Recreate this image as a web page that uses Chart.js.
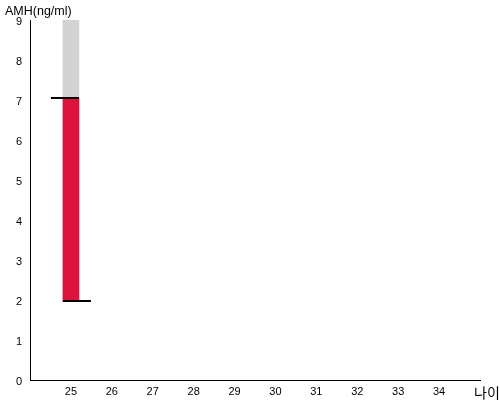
<!DOCTYPE html>
<html>
<head>
<meta charset="utf-8">
<script src="https://cdn.jsdelivr.net/npm/chart.js@4/dist/chart.umd.min.js"></script>
<style>
html,body{margin:0;padding:0;background:#fff;}
#wrap{position:relative;width:500px;height:400px;}
</style>
</head>
<body>
<div id="wrap"><canvas id="c" width="500" height="400"></canvas></div>
<script>
// Data
const ages = [25];
const lowValues = [1.97];
const highValues = [7.05];
const yMax = 9;
const xTicks = [25, 26, 27, 28, 29, 30, 31, 32, 33, 34];
const yTitle = 'AMH(ng/ml)';
const xTitle = '나이';

const FONT = 'Arial, "Liberation Sans", sans-serif';

const redData = ages.map((a, i) => ({x: a, y: [lowValues[i], highValues[i]]}));
const greyData = ages.map((a, i) => ({x: a, y: [highValues[i], yMax]}));

const markerPlugin = {
  id: 'markers',
  afterDatasetsDraw(chart) {
    const ctx = chart.ctx;
    const xs = chart.scales.x, ys = chart.scales.y;
    ctx.save();
    ctx.strokeStyle = '#000';
    ctx.lineWidth = 2;
    ages.forEach((a, i) => {
      const px = xs.getPixelForValue(a);
      const hy = Math.round(ys.getPixelForValue(highValues[i]));
      const ly = Math.round(ys.getPixelForValue(lowValues[i]));
      ctx.beginPath();
      ctx.moveTo(px - 20, hy); ctx.lineTo(px + 8, hy);
      ctx.moveTo(px - 8, ly); ctx.lineTo(px + 20, ly);
      ctx.stroke();
    });
    ctx.restore();
  }
};

const titlesPlugin = {
  id: 'titles',
  afterDraw(chart) {
    const ctx = chart.ctx;
    ctx.save();
    ctx.fillStyle = '#000';
    ctx.font = '12.5px ' + FONT;
    ctx.textBaseline = 'alphabetic';
    ctx.textAlign = 'left';
    ctx.fillText(yTitle, 5, 15);
    ctx.font = '14px "Noto Sans CJK KR", sans-serif';
    ctx.fillText(xTitle, 474, 398);
    ctx.restore();
  }
};

new Chart(document.getElementById('c'), {
  type: 'bar',
  data: {
    datasets: [
      {data: redData, backgroundColor: '#dc143c', barThickness: 16, grouped: false, order: 1},
      {data: greyData, backgroundColor: '#d3d3d3', barThickness: 16, grouped: false, order: 2}
    ]
  },
  options: {
    responsive: false,
    animation: false,
    layout: {padding: {top: 20, right: 20, left: 0, bottom: 0}},
    plugins: {legend: {display: false}, tooltip: {enabled: false}},
    scales: {
      x: {
        type: 'linear', min: 24, max: 35, offset: false,
        grid: {display: false, drawTicks: false},
        border: {display: true, color: '#000', width: 1},
        afterBuildTicks(scale) { scale.ticks = xTicks.map(v => ({value: v})); },
        ticks: {color: '#000', font: {family: FONT, size: 11}, padding: 5, autoSkip: false, maxRotation: 0},
        afterFit(scale) { scale.height = 20; }
      },
      y: {
        min: 0, max: yMax,
        grid: {display: false, drawTicks: true, tickLength: 2, color: '#000'},
        border: {display: true, color: '#000', width: 1},
        ticks: {stepSize: 1, color: '#000', font: {family: FONT, size: 11}, padding: 6, labelOffset: 2},
        afterFit(scale) { scale.width = 30; }
      }
    }
  },
  plugins: [markerPlugin, titlesPlugin]
});
</script>
</body>
</html>
